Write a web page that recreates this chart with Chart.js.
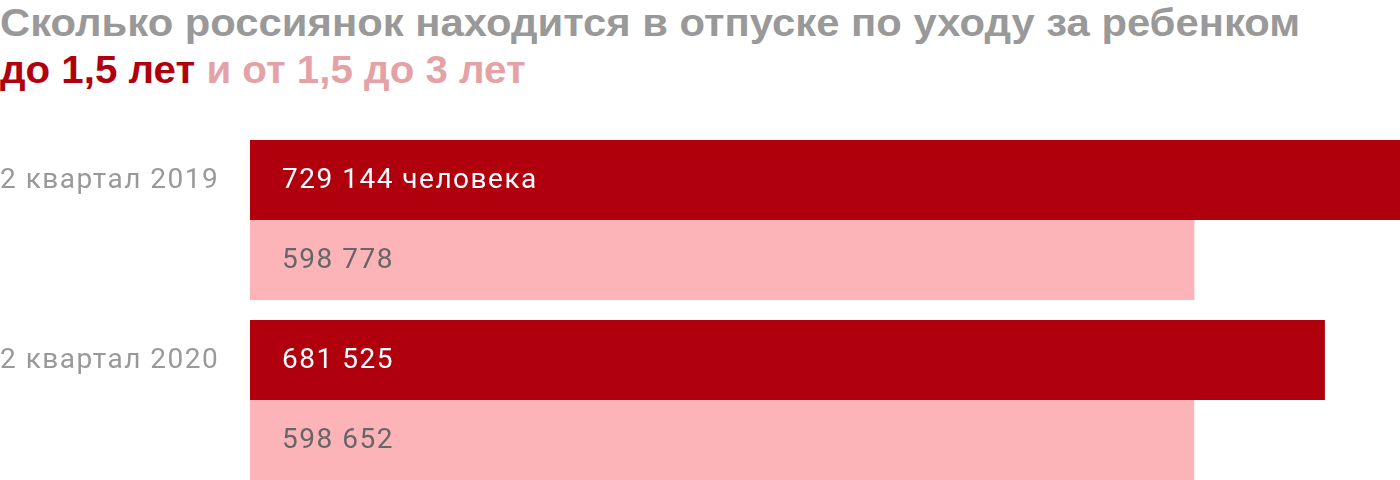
<!DOCTYPE html>
<html>
<head>
<meta charset="utf-8">
<script src="https://cdn.jsdelivr.net/npm/chart.js@4"></script>
<style>
  html, body { margin: 0; padding: 0; background: #fff; overflow: hidden; }
  body { width: 1400px; height: 480px; position: relative; }
  .title { position: absolute; left: 0; top: 0; font-family: "Liberation Sans", Arial, sans-serif; font-weight: 700; font-size: 38px; line-height: 38px; color: #999999; white-space: nowrap; }
  .title div { position: absolute; left: 0; transform-origin: 0 0; }
  .title .l1 { top: 4px; transform: scaleX(1.1); }
  .title .l2 { top: 51px; transform: scaleX(1.06); }
  .red { color: #b1000d; }
  .pink { color: #e4a2a7; }
  .wrap { position: absolute; left: 0; top: 130px; width: 1400px; height: 360px; }
</style>
</head>
<body>
<div class="title">
  <div class="l1">Сколько россиянок находится в отпуске по уходу за ребенком</div>
  <div class="l2"><span class="red">до 1,5 лет</span> <span class="pink">и от 1,5 до 3 лет</span></div>
</div>
<div class="wrap"><canvas id="bars"></canvas></div>
<script>
var quarters = ["2 квартал 2019", "2 квартал 2020"];
var under15 = [729144, 681525];
var from15to3 = [598778, 598652];
var valueLabels = [["729 144 человека", "681 525"], ["598 778", "598 652"]];

var barColors = ["#b1000d", "#fcb4b8"];
var textColors = ["#ffffff", "#666666"];

// category names and bar values are drawn here so nothing pads the chart area
var labelPlugin = {
  id: "labels",
  afterDatasetsDraw: function (chart) {
    var ctx = chart.ctx;
    ctx.save();
    ctx.font = "28px Roboto";
    ctx.letterSpacing = "1.5px";
    ctx.textBaseline = "middle";
    ctx.textAlign = "left";
    ctx.fillStyle = "#999999";
    quarters.forEach(function (q, j) {
      var top = chart.getDatasetMeta(0).data[j];
      ctx.fillText(q, 0, top.y + 1);
    });
    chart.data.datasets.forEach(function (ds, i) {
      chart.getDatasetMeta(i).data.forEach(function (bar, j) {
        ctx.fillStyle = textColors[i];
        ctx.fillText(valueLabels[i][j], bar.base + 32, bar.y + 1);
      });
    });
    ctx.restore();
  }
};

function draw_chart() {
  var config = {
    type: "bar",
    data: {
      labels: quarters,
      datasets: [
        { label: "до 1,5 лет", data: under15, backgroundColor: barColors[0] },
        { label: "от 1,5 до 3 лет", data: from15to3, backgroundColor: barColors[1] }
      ]
    },
    options: {
      indexAxis: "y",
      responsive: true,
      maintainAspectRatio: false,
      animation: false,
      layout: { padding: { left: 250, right: 0, top: 0, bottom: 0 } },
      categoryPercentage: 160 / 180,
      barPercentage: 1,
      plugins: {
        legend: { display: false },
        tooltip: { enabled: false }
      },
      scales: {
        x: { display: false, min: 0, max: 729144 },
        y: { display: false }
      }
    },
    plugins: [labelPlugin]
  };
  var canvas = document.getElementById("bars");
  canvas.chart = new Chart(canvas.getContext("2d"), config);
}

draw_chart();
</script>
</body>
</html>
